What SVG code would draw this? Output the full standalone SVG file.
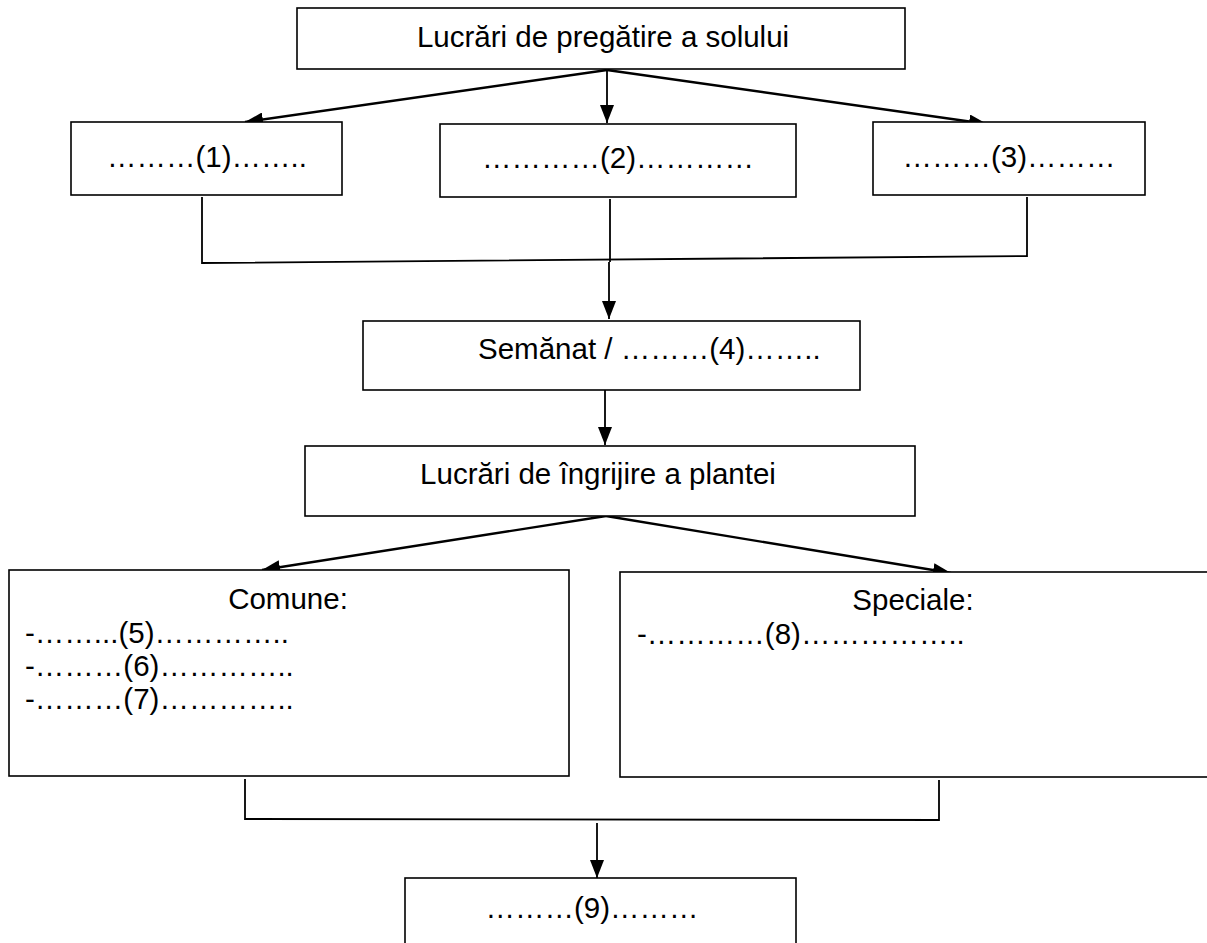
<svg xmlns="http://www.w3.org/2000/svg" width="1207" height="943" viewBox="0 0 1207 943">
<style>
.box{fill:#fff;stroke:#000;stroke-width:1.6}
.t{font-family:"Liberation Sans",Arial,sans-serif;font-size:29.5px;fill:#000}
.m{text-anchor:middle}
.ln{stroke:#000;stroke-width:1.8;fill:none}
.ar{stroke:#000;stroke-width:2.4;fill:none;marker-end:url(#ah)}
.av{stroke:#000;stroke-width:1.8;fill:none;marker-end:url(#ah)}
</style>
<defs>
<marker id="ah" viewBox="0 0 18 14" refX="18" refY="7" markerWidth="18" markerHeight="14" markerUnits="userSpaceOnUse" orient="auto">
<path d="M0,0 L18,7 L0,14 Z" fill="#000"/>
</marker>
</defs>
<g id="connectors">
<line class="ar" x1="607" y1="70" x2="245" y2="122"/>
<line class="av" x1="607" y1="70" x2="607" y2="123"/>
<line class="ar" x1="607" y1="70" x2="987" y2="124"/>
<polyline class="ln" points="202,197 202,263 1027,256 1027,197"/>
<line class="ln" x1="610" y1="199" x2="610" y2="262"/>
<line class="av" x1="609" y1="262" x2="609" y2="319"/>
<line class="av" x1="605" y1="390" x2="605" y2="445"/>
<line class="ar" x1="606" y1="516" x2="262" y2="570"/>
<line class="ar" x1="606" y1="516" x2="951" y2="573"/>
<polyline class="ln" points="245,779 245,819 939,820 939,780"/>
<line class="av" x1="597" y1="823" x2="597" y2="878"/>
</g>
<g id="n0">
<rect class="box" x="297" y="8" width="608" height="61"/>
<text class="t m" x="603" y="47">Lucrări de pregătire a solului</text>
</g>
<g id="n1">
<rect class="box" x="71" y="122" width="271" height="73"/>
<text class="t m" x="207" y="167">………(1)……..</text>
</g>
<g id="n2">
<rect class="box" x="440" y="124" width="356" height="73"/>
<text class="t m" x="618" y="168">…………(2)…………</text>
</g>
<g id="n3">
<rect class="box" x="873" y="122" width="272" height="73"/>
<text class="t m" x="1009" y="167">………(3)………</text>
</g>
<g id="n4">
<rect class="box" x="363" y="321" width="497" height="69"/>
<text class="t" x="478" y="359">Semănat / ………(4)……..</text>
</g>
<g id="n5">
<rect class="box" x="305" y="446" width="610" height="70"/>
<text class="t m" x="598" y="484">Lucrări de îngrijire a plantei</text>
</g>
<g id="n6">
<rect class="box" x="9" y="570" width="560" height="206"/>
<text class="t m" x="288" y="609">Comune:</text>
<text class="t" x="25" y="643">-……...(5)…………..</text>
<text class="t" x="25" y="676">-………(6)…………..</text>
<text class="t" x="25" y="709">-………(7)…………..</text>
</g>
<g id="n7">
<rect class="box" x="620" y="572" width="600" height="205"/>
<text class="t m" x="913" y="610">Speciale:</text>
<text class="t" x="637" y="644">-…………(8)……………..</text>
</g>
<g id="n8">
<rect class="box" x="405" y="878" width="391" height="80"/>
<text class="t m" x="592" y="918">………(9)………</text>
</g>
</svg>
